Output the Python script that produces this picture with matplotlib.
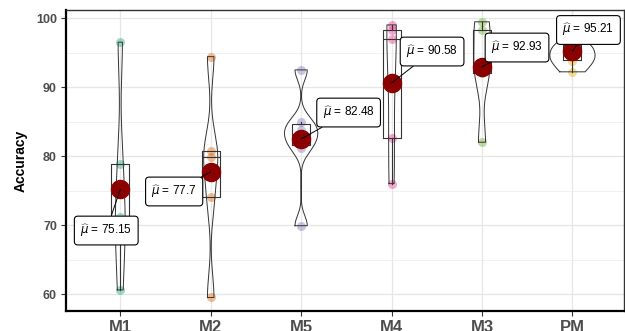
import numpy as np
import matplotlib
matplotlib.use("Agg")
import matplotlib.pyplot as plt

# model names in plotting order
models = ["M1", "M2", "M5", "M4", "M3", "PM"]

# accuracy values
acc_m1 = [60.6, 68.65, 71.2, 78.8, 96.5]
acc_m2 = [59.5, 74.0, 79.9, 80.7, 94.4]
acc_m5 = [69.9, 81.2, 82.6, 83.8, 84.9, 92.48]
acc_m4 = [76.0, 82.6, 97.0, 98.3, 99.0]
acc_m3 = [82.0, 92.0, 93.0, 98.2, 99.45]
acc_pm = [92.2, 93.7, 94.3, 95.5, 96.3, 99.26]
all_acc = [acc_m1, acc_m2, acc_m5, acc_m4, acc_m3, acc_pm]

colors = ["#1B9E77", "#D95F02", "#7570B3", "#E7298A", "#66A61E", "#E6AB02"]

# where the mean labels sit (layout only)
label_pos = [(0.845, 69.2), (1.596, 74.86), (3.525, 86.3),
             (4.448, 95.14), (5.387, 95.72), (6.177, 98.26)]

plt.rcParams['font.family'] = ['Liberation Sans', 'DejaVu Sans']
plt.rcParams['mathtext.fontset'] = 'dejavusans'


def bw_nrd0(x):
    # same rule of thumb R uses for density()
    x = np.asarray(x)
    sd = np.std(x, ddof=1)
    q1, q3 = np.percentile(x, [25, 75])
    lo = min(sd, (q3 - q1) / 1.34)
    if lo == 0:
        lo = sd
    return 0.9 * lo * len(x) ** (-0.2)


def trimmed_density(x):
    x = np.asarray(x)
    bw = bw_nrd0(x)
    grid = np.linspace(x.min(), x.max(), 512)
    d = np.exp(-0.5 * ((grid[:, None] - x[None, :]) / bw) ** 2).sum(axis=1)
    d = d / (len(x) * bw * np.sqrt(2 * np.pi))
    return grid, d


fig, ax = plt.subplots(figsize=(6.25, 3.31), dpi=100)
fig.subplots_adjust(left=0.1056, right=0.9984, bottom=0.0604, top=0.9698)

# grid like the ggplot theme
for v in np.arange(60, 101, 10):
    ax.axhline(v, color='#E6E6E6', lw=0.9, zorder=0)
for v in np.arange(65, 101, 10):
    ax.axhline(v, color='#F0F0F0', lw=0.6, zorder=0)
for i in range(len(models)):
    ax.axvline(i + 1, color='#E6E6E6', lw=0.9, zorder=0)

# violins, scaled by area across all groups
dens = [trimmed_density(a) for a in all_acc]
dmax = max(d.max() for g, d in dens)
for i, (g, d) in enumerate(dens):
    hw = d / dmax * 0.25
    xs = np.concatenate([i + 1 - hw, (i + 1 + hw)[::-1], [i + 1 - hw[0]]])
    ys = np.concatenate([g, g[::-1], [g[0]]])
    ax.fill(xs, ys, color='white', alpha=0.2, zorder=2)
    ax.plot(xs, ys, color='#333333', lw=0.7, zorder=3)

# raw points
for i, a in enumerate(all_acc):
    ax.plot([i + 1] * len(a), a, 'o', color=colors[i], alpha=0.4,
            markersize=6.5, markeredgewidth=0, zorder=2)

# boxes
ax.boxplot(all_acc, positions=range(1, len(models) + 1), widths=0.2,
           showfliers=False, showcaps=False, patch_artist=False,
           boxprops=dict(color='#333333', lw=0.8),
           whiskerprops=dict(color='#333333', lw=0.8),
           medianprops=dict(color='#333333', lw=0.8), zorder=3)

# means and their labels
for i, a in enumerate(all_acc):
    m = np.mean(a)
    ax.plot(i + 1, m, 'o', color='#8B0000', markersize=13, zorder=4)
    txt = ('%.2f' % m).rstrip('0').rstrip('.')
    ax.annotate(r'$\widehat{\mu}$ = ' + txt, xy=(i + 1, m), xytext=label_pos[i],
                ha='center', va='center', fontsize=8.5, color='black',
                bbox=dict(boxstyle='round,pad=0.5,rounding_size=0.3',
                          fc='white', ec='black', lw=0.8),
                arrowprops=dict(arrowstyle='-', color='black', lw=0.7,
                                shrinkA=0, shrinkB=0),
                zorder=6)

ax.set_xlim(0.4, 6.57)
ax.set_ylim(57.54, 101.16)
ax.set_xticks(range(1, len(models) + 1))
ax.set_xticklabels(models, fontsize=12, fontweight='bold', color='#4D4D4D')
ax.set_yticks([60, 70, 80, 90, 100])
ax.set_yticklabels(['60', '70', '80', '90', '100'], fontsize=9,
                   fontweight='bold', color='#4D4D4D')
ax.tick_params(axis='both', length=3.5, width=0.8, color='#333333', pad=3)
ax.set_ylabel('Accuracy', fontsize=10, fontweight='bold', labelpad=6)

for side in ['left', 'bottom']:
    ax.spines[side].set_color('black')
    ax.spines[side].set_linewidth(1.6)
for side in ['top', 'right']:
    ax.spines[side].set_color('#333333')
    ax.spines[side].set_linewidth(1.0)

plt.savefig('out.png', dpi=100)
